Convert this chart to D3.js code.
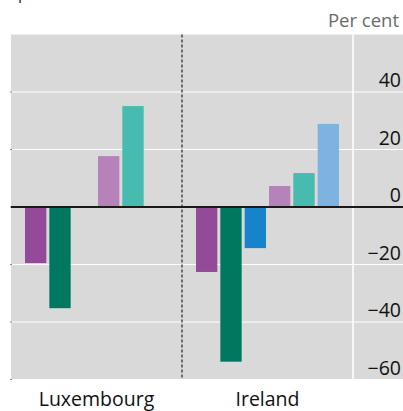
<!DOCTYPE html>
<html>
<head>
<meta charset="utf-8">
<script src="https://cdn.jsdelivr.net/npm/d3@7"></script>
<style>
  html, body { margin: 0; padding: 0; background: #fff; }
  svg { display: block; font-family: "Open Sans", "Noto Sans", sans-serif; }
</style>
</head>
<body>
<svg id="chart" width="403" height="411"></svg>
<script>
const categories = ["Luxembourg", "Ireland"];
const seriesNames = ["s1", "s2", "s3", "s4", "s5", "s6"];
const luxembourgValues = [-19.5, -35.2, null, 17.7, 35.1, null];
const irelandValues = [-22.6, -53.8, -14.3, 7.3, 11.8, 28.9];
const tickValues = [-60, -40, -20, 0, 20, 40];
const tickLabels = ["\u221260", "\u221240", "\u221220", "0", "20", "40"];
const seriesColors = ["#934A98", "#00785F", "#1783CA", "#B583B9", "#48BBB0", "#7EB2E0"];

const valuesByCategory = [luxembourgValues, irelandValues];

const svg = d3.select("#chart");
const plotLeft = 11, plotRight = 403, plotTop = 34.5, plotBottom = 379.5, barsRight = 353;

const y = d3.scaleLinear().domain([-60, 60]).range([plotBottom, plotTop]);
const x0 = d3.scaleBand().domain(categories).range([plotLeft, barsRight]).padding(0);
const x1 = d3.scaleBand().domain(seriesNames).range([14, 157]).paddingInner(3 / 24.3).paddingOuter(0);

// background
svg.append("rect").attr("x", plotLeft).attr("y", plotTop)
  .attr("width", plotRight - plotLeft).attr("height", plotBottom - plotTop)
  .attr("fill", "#D9D9D9");

// gridlines
svg.append("g").selectAll("line").data(tickValues.filter(d => d !== 0)).join("line")
  .attr("x1", plotLeft).attr("x2", plotRight)
  .attr("y1", d => y(d)).attr("y2", d => y(d))
  .attr("stroke", "#fff").attr("stroke-width", 1.2);

// vertical white separator before axis labels
svg.append("line").attr("x1", barsRight).attr("x2", barsRight)
  .attr("y1", plotTop).attr("y2", plotBottom)
  .attr("stroke", "#fff").attr("stroke-width", 1.5);

// small left ticks
svg.append("g").selectAll("line").data(tickValues).join("line")
  .attr("x1", plotLeft - 1).attr("x2", plotLeft + 1)
  .attr("y1", d => y(d)).attr("y2", d => y(d))
  .attr("stroke", "#888").attr("stroke-width", 1);

// bars
const groups = svg.append("g").selectAll("g").data(categories).join("g")
  .attr("transform", d => `translate(${x0(d)},0)`);
groups.each(function(cat, ci) {
  const vals = valuesByCategory[ci];
  const data = seriesNames.map((s, i) => ({ s, i, v: vals[i] })).filter(d => d.v !== null);
  d3.select(this).selectAll("rect").data(data).join("rect")
    .attr("x", d => x1(d.s))
    .attr("width", x1.bandwidth())
    .attr("y", d => y(Math.max(0, d.v)))
    .attr("height", d => Math.abs(y(d.v) - y(0)))
    .attr("fill", d => seriesColors[d.i]);
});

// dashed divider
svg.append("line").attr("x1", x0("Ireland")).attr("x2", x0("Ireland"))
  .attr("y1", plotTop).attr("y2", plotBottom)
  .attr("stroke", "#333").attr("stroke-width", 1.3)
  .attr("stroke-dasharray", "3,2");

// zero line
svg.append("line").attr("x1", plotLeft).attr("x2", plotRight)
  .attr("y1", y(0)).attr("y2", y(0))
  .attr("stroke", "#1a1a1a").attr("stroke-width", 2.2);

// y tick labels (right, above gridlines)
svg.append("g").selectAll("text").data(tickValues).join("text")
  .attr("x", 401).attr("y", d => y(d) - 5)
  .attr("text-anchor", "end")
  .attr("font-size", 19.5).attr("fill", "#111")
  .text((d, i) => tickLabels[i]);

// category labels
svg.append("g").selectAll("text").data(categories).join("text")
  .attr("x", d => x0(d) + x0.bandwidth() / 2).attr("y", 406)
  .attr("text-anchor", "middle")
  .attr("font-size", 19.5).attr("fill", "#111")
  .text(d => d);

// unit label
svg.append("text").attr("x", 399).attr("y", 27)
  .attr("text-anchor", "end").attr("font-size", 18.5).attr("fill", "#6b6b6b")
  .text("Per cent");

// cut-off title fragment
svg.append("text").attr("x", 18).attr("y", -1)
  .attr("font-size", 16).attr("fill", "#1a1a1a").text("p");
</script>
</body>
</html>
